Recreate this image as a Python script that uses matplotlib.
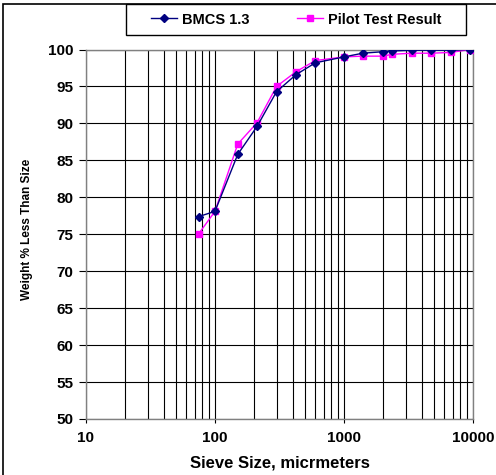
import numpy as np
from matplotlib import pyplot as plt
from matplotlib import ticker
from matplotlib.patches import Rectangle

plt.rcParams['font.family'] = ['Liberation Sans', 'DejaVu Sans']
plt.rcParams['font.weight'] = 'bold'

# sieve sizes (micrometers)
sieve = [75, 100, 150, 212, 300, 425, 600, 1000, 1400, 2000, 2360, 3350, 4750, 6700, 9500]
bmcs = [77.4, 78.1, 85.8, 89.6, 94.3, 96.6, 98.2, 99.0, 99.5, 99.7, 99.8, 99.9, 99.9, 99.9, 100.0]
pilot = [75.1, 78.1, 87.2, 90.1, 95.0, 97.0, 98.5, 99.0, 99.1, 99.1, 99.35, 99.5, 99.5, 99.6, 100.0]

xticks = [10, 100, 1000, 10000]
yticks = list(range(50, 101, 5))

W, H = 496, 475
fig = plt.figure(figsize=(W/100, H/100), dpi=100)
ax = fig.add_axes([86/W, 1 - 419/H, 387/W, 369.5/H])

ax.set_xscale('log')
ax.set_xlim(10, 10000)
ax.set_ylim(50, 100)

ax.plot(sieve, bmcs, color='#000080', lw=1, marker='D', ms=4,
        label='BMCS 1.3', zorder=4)
ax.plot(sieve, pilot, color='#FF00FF', lw=1, marker='s', ms=5,
        label='Pilot Test Result', zorder=3)

ax.set_xticks(xticks)
ax.xaxis.set_major_formatter(ticker.FuncFormatter(lambda v, p: '%d' % v))
ax.xaxis.set_minor_locator(ticker.LogLocator(base=10, subs=np.arange(2, 10)))
ax.xaxis.set_minor_formatter(ticker.NullFormatter())
ax.set_yticks(yticks)

ax.grid(True, which='both', axis='x', color='black', lw=0.8)
ax.grid(True, which='major', axis='y', color='black', lw=0.8)
ax.tick_params(axis='x', which='minor', length=0)
ax.tick_params(axis='both', which='major', direction='out', length=5,
               width=0.8, labelsize=11, color='black')
ax.tick_params(axis='x', which='major', length=3, pad=6)
ax.tick_params(axis='y', which='major', pad=4)
for s in ax.spines.values():
    s.set_color('#808080')
    s.set_linewidth(1)

ax.set_xlabel('Sieve Size, micrmeters', fontsize=12, fontweight='bold', labelpad=7)
ax.set_ylabel('Weight % Less Than Size', fontsize=8.5, fontweight='bold')
ax.yaxis.set_label_coords((33 - 86)/387, 1 - (229 - 49.5)/369.5)

leg = fig.legend(loc='center', bbox_to_anchor=(296/W, 1 - 19.5/H), ncol=2,
                 fontsize=10.5, frameon=False, handlelength=1.8, markerscale=0.9,
                 handletextpad=0.3, columnspacing=3.3, borderpad=0, borderaxespad=0)
for t in leg.get_texts():
    t.set_fontweight('bold')

# legend box
fig.patches.append(Rectangle((126/W, 1 - 35/H), 340/W, 31/H,
                             transform=fig.transFigure, fill=False,
                             edgecolor='black', lw=1))
# chart border
fig.patches.append(Rectangle((3/W, -0.1), 1.2, 1 - 4/H + 0.1,
                             transform=fig.transFigure, fill=False,
                             edgecolor='black', lw=1.2))

fig.savefig('out.png', dpi=100)
